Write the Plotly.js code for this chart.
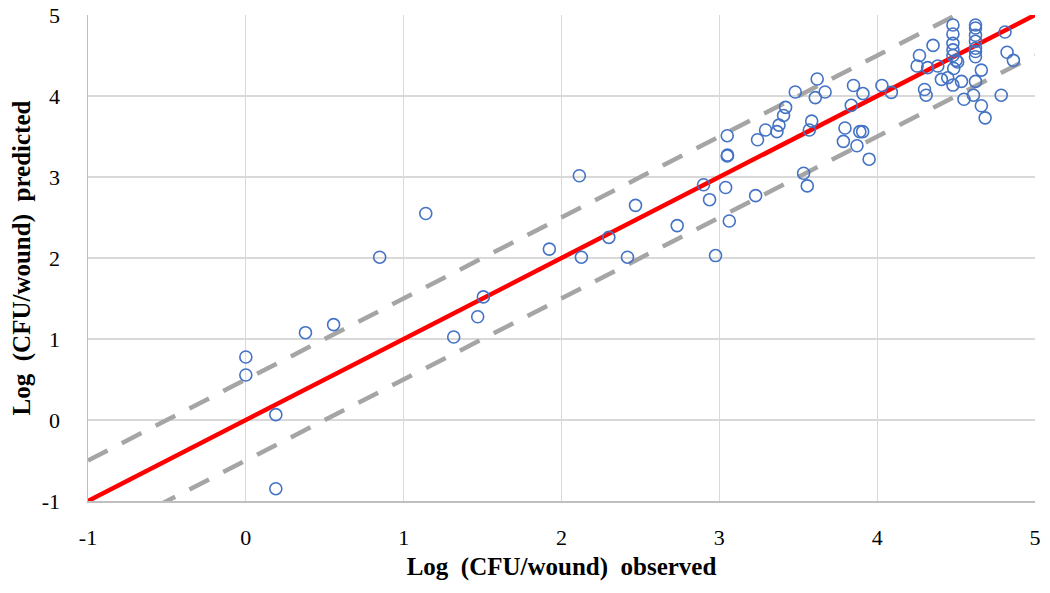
<!DOCTYPE html>
<html>
<head>
<meta charset="utf-8">
<script src="https://cdn.plot.ly/plotly-3.0.1.min.js"></script>
<style>html,body{margin:0;padding:0;background:#fff;}#chart{width:1050px;height:593px;}</style>
</head>
<body>
<div id="chart"></div>
<script>
const observed = [
  1.14, 0.848, 1.505, 1.469, 1.317, 0.556, 0.378, 0.0, 0.0, 0.19, 0.19,
  2.113, 2.469, 1.923, 2.30, 2.126, 2.418, 2.733, 2.976, 2.90, 2.938, 3.052, 3.04, 3.063, 3.23,
  3.05, 3.05, 3.242, 3.293, 3.365, 3.378, 3.407, 3.42, 3.481, 3.62, 3.608, 3.67, 3.585, 3.57,
  3.534, 3.557, 3.796, 3.786, 3.872, 3.89, 3.908, 3.949, 3.836, 3.85, 3.91, 4.03, 4.09,
  4.268, 4.253, 4.354, 4.32, 4.384, 4.30, 4.31, 4.407, 4.447,
  4.48, 4.48, 4.48, 4.48, 4.48, 4.50, 4.51, 4.485, 4.48, 4.534, 4.55,
  4.623, 4.623, 4.623, 4.623, 4.623, 4.623, 4.623, 4.623, 4.61, 4.66, 4.66, 4.684, 4.786, 4.81, 4.823, 4.863
];
const predicted = [
  2.55, 2.01, 1.52, 1.275, 1.025, 1.177, 1.078, 0.778, 0.556, 0.066, -0.848,
  3.016, 2.65, 2.11, 2.255, 2.01, 2.01, 2.40, 2.03, 2.905, 2.72, 3.27, 2.87, 2.457, 2.77,
  3.51, 3.26, 3.46, 3.58, 3.56, 3.64, 3.76, 3.86, 4.05, 4.21, 3.98, 4.05, 3.69, 3.58,
  3.046, 2.89, 3.605, 3.44, 3.386, 3.56, 3.56, 3.22, 3.885, 4.13, 4.03, 4.13, 4.045,
  4.50, 4.37, 4.625, 4.35, 4.37, 4.08, 4.01, 4.205, 4.226,
  4.877, 4.765, 4.65, 4.57, 4.50, 4.44, 4.42, 4.34, 4.135, 4.18, 3.96,
  4.877, 4.84, 4.75, 4.675, 4.59, 4.55, 4.485, 4.18, 4.01, 4.32, 3.88, 3.73, 4.01, 4.79, 4.54, 4.44
];
const lineX = [-1, 5];
const idealY = [-1, 5];
const upperY = [-0.5, 5.5];
const lowerY = [-1.5, 4.5];
const tickVals = [-1, 0, 1, 2, 3, 4, 5];
const tickText = ['-1', '0', '1', '2', '3', '4', '5'];

const traces = [
  {x: lineX, y: upperY, mode: 'lines', line: {color: '#A5A5A5', width: 4.5, dash: '22px,16px'}, hoverinfo: 'skip'},
  {x: lineX, y: lowerY, mode: 'lines', line: {color: '#A5A5A5', width: 4.5, dash: '22px,16px'}, hoverinfo: 'skip'},
  {x: lineX, y: idealY, mode: 'lines', line: {color: '#FF0000', width: 4.5}, hoverinfo: 'skip'},
  {x: observed, y: predicted, mode: 'markers', type: 'scatter',
   marker: {symbol: 'circle-open', size: 12, color: '#4472C4', line: {width: 1.6, color: '#4472C4'}}}
];

const font = {family: '"Liberation Serif", "Times New Roman", serif', color: '#000'};
const layout = {
  width: 1050, height: 593,
  margin: {l: 88, r: 15, t: 15, b: 92},
  paper_bgcolor: '#fff', plot_bgcolor: '#fff',
  showlegend: false,
  font: Object.assign({size: 22}, font),
  xaxis: {
    range: [-1, 5], tickvals: tickVals, ticktext: tickText,
    showgrid: true, gridcolor: '#D9D9D9', gridwidth: 1.3,
    zeroline: false, showline: true, linecolor: '#BFBFBF', linewidth: 1.5,
    ticks: '', ticklabelstandoff: 16,
    tickfont: Object.assign({size: 22}, font),
    title: {text: '<b>Log  (CFU/wound)  observed</b>', font: Object.assign({size: 25}, font), standoff: 8}
  },
  yaxis: {
    range: [-1, 5], tickvals: tickVals, ticktext: tickText,
    showgrid: true, gridcolor: '#D9D9D9', gridwidth: 1.3,
    zeroline: false, showline: true, linecolor: '#BFBFBF', linewidth: 1.5,
    ticks: '', ticklabelstandoff: 22,
    tickfont: Object.assign({size: 22}, font),
    title: {text: '<b>Log  (CFU/wound)  predicted</b>', font: Object.assign({size: 25}, font), standoff: 4}
  }
};
Plotly.newPlot('chart', traces, layout, {displayModeBar: false, staticPlot: true});
</script>
</body>
</html>
